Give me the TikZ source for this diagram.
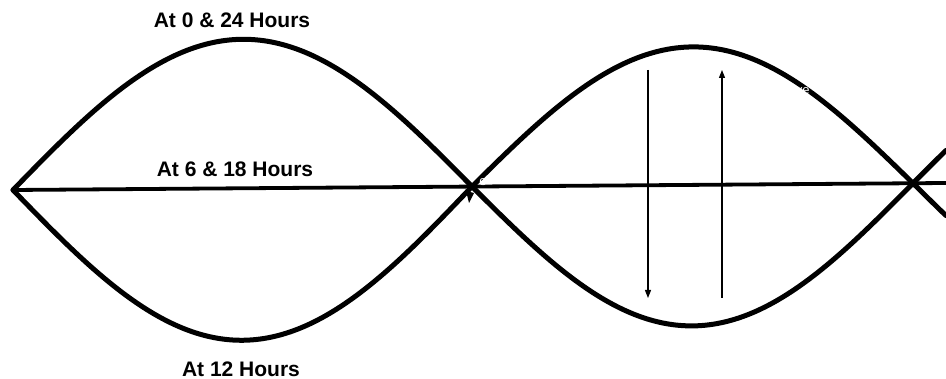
\documentclass[tikz,border=0pt]{standalone}
\usepackage{fontspec}
\setmainfont{Liberation Sans}
\usetikzlibrary{arrows.meta}
\tikzset{
  wave/.style={line width=5pt, line join=round, line cap=round},
  axisline/.style={line width=3.8pt},
  label/.style={font=\fontsize{21}{25}\selectfont\bfseries, inner sep=0pt, anchor=center},
  hidden/.style={font=\fontsize{13}{15}\selectfont, text=white, inner sep=0pt},
  motion/.style={line width=1.2pt, -{Triangle[length=8pt,width=6pt]}}
}
\begin{document}
\begin{tikzpicture}[x=1pt, y=-1pt]
\useasboundingbox (0,0) rectangle (946,379);
% baseline
\coordinate (L) at (13,190);
\coordinate (R) at (946,183);
\draw[axisline] (L) -- (R);
% wave A: crest on the left, trough on the right
\draw[wave] plot[domain=13:472, samples=120] (\x,{190-(\x-13)/934*7 - 149*sin((\x-13)/459*180)})
  -- plot[domain=472:913, samples=120] (\x,{190-(\x-13)/934*7 + 141*sin((\x-472)/441*180)})
  -- plot[domain=913:946, samples=20] (\x,{190-(\x-13)/934*7 - 140*sin((\x-913)/441*180)});
% wave B: trough on the left, crest on the right
\draw[wave] plot[domain=13:472, samples=120] (\x,{190-(\x-13)/934*7 + 152*sin((\x-13)/459*180)})
  -- plot[domain=472:913, samples=120] (\x,{190-(\x-13)/934*7 - 138*sin((\x-472)/441*180)})
  -- plot[domain=913:946, samples=20] (\x,{190-(\x-13)/934*7 + 140*sin((\x-913)/441*180)});
% small mark under the middle crossing
\fill (466,191) -- (474,193) -- (469,203) -- cycle;
% labels
\node[label] (t0) at (232,20) {At 0 \& 24 Hours};
\node[label] (t6) at (235,169) {At 6 \& 18 Hours};
\node[label] (t12) at (241,369) {At 12 Hours};
% faint white text
\node[hidden] (w1) at (483,182) {e};
\node[hidden] (w2) at (799,91) {ave};
% arrows
\coordinate (d1) at (648,70);
\coordinate (d2) at (648,298);
\coordinate (u1) at (722,298);
\coordinate (u2) at (722,70);
\draw[motion] (d1) -- (d2);
\draw[motion] (u1) -- (u2);
\end{tikzpicture}
\end{document}
